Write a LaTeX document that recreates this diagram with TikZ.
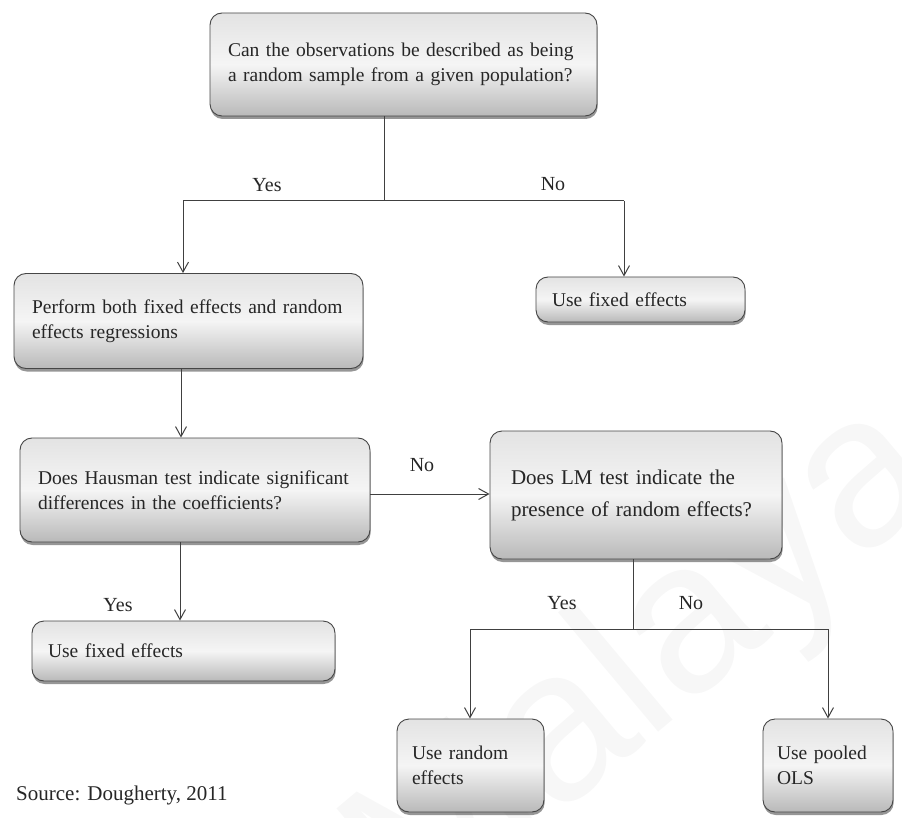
\documentclass[tikz,border=0pt]{standalone}
\usepackage{fontspec}
\setmainfont{Liberation Serif}
\newfontfamily\wmfont{Liberation Sans}
\usetikzlibrary{arrows.meta,shadows}

\begin{document}
\begin{tikzpicture}[x=1pt,y=-1pt,
  box/.style={draw=gray!55!black, line width=0.9pt, rounded corners=12pt,
    top color=gray!22, bottom color=gray!55, middle color=gray!8,
    drop shadow={shadow xshift=0.6pt, shadow yshift=-3pt, opacity=0.55, fill=black!75},
    align=left, text=black!85, inner ysep=0pt, inner xsep=18pt,
    font=\fontsize{19.5}{25}\selectfont},
  conn/.style={draw=black!75, line width=1pt},
  arr/.style={conn, -{Straight Barb[length=10pt,width=11pt,line width=1pt]}},
  lbl/.style={text=black!85, font=\fontsize{20}{24}\selectfont, inner sep=0pt},
  wm/.style={text=gray!6, font=\wmfont\fontsize{215}{215}\selectfont, inner sep=0pt}
]
\useasboundingbox (0,0) rectangle (902,818);

% faint watermark behind everything
\node[wm, rotate=40] (wm) at (648,668) {Malaya};

% decision and outcome boxes
\node[box, minimum width=387pt, minimum height=103pt, text width=351pt] (q1) at (403.5,64.5)
  {Can the observations be described as being\\a random sample from a given population?};
\node[box, minimum width=349pt, minimum height=95pt, text width=313pt] (both) at (188.5,321)
  {Perform both fixed effects and random\\effects regressions};
\node[box, minimum width=209pt, minimum height=45pt, text width=177pt, inner xsep=16pt] (fe1) at (640.5,299.5)
  {Use fixed effects};
\node[box, minimum width=350pt, minimum height=104pt, text width=314pt] (haus) at (195,490)
  {Does Hausman test indicate significant\\differences in the coefficients?};
\node[box, minimum width=292pt, minimum height=128pt, text width=250pt, inner xsep=21pt,
  font=\fontsize{21}{32}\selectfont] (lm) at (636,495)
  {Does LM test indicate the\\presence of random effects?};
\node[box, minimum width=303pt, minimum height=60pt, text width=271pt, inner xsep=16pt] (fe2) at (183.5,651)
  {Use fixed effects};
\node[box, minimum width=147pt, minimum height=93pt, text width=117pt, inner xsep=15pt] (re) at (470.5,765.5)
  {Use random\\effects};
\node[box, minimum width=130pt, minimum height=93pt, text width=102pt, inner xsep=14pt] (ols) at (828,765.5)
  {Use pooled\\OLS};

% branch points
\coordinate (j1) at (384,201);
\coordinate (j1l) at (183,201);
\coordinate (j1r) at (624,201);
\coordinate (c2) at (181,0);
\coordinate (c4) at (0,494);
\coordinate (c5) at (180,0);
\coordinate (j3) at (633,629);
\coordinate (j3l) at (470,629);
\coordinate (j3r) at (828,629);

% connectors
\draw[conn] (q1.south -| j1) -- (j1);
\draw[conn] (j1l) -- (j1r);
\draw[arr] (j1l) -- (j1l |- both.north);
\draw[arr] (j1r) -- (j1r |- fe1.north);
\draw[arr] (both.south -| c2) -- (haus.north -| c2);
\draw[arr] (haus.east |- c4) -- (lm.west |- c4);
\draw[arr] (haus.south -| c5) -- (fe2.north -| c5);
\draw[conn] (lm.south -| j3) -- (j3);
\draw[conn] (j3l) -- (j3r);
\draw[arr] (j3l) -- (j3l |- re.north);
\draw[arr] (j3r) -- (j3r |- ols.north);

% branch labels
\node[lbl] (y1) at (267,185) {Yes};
\node[lbl] (n1) at (553,184) {No};
\node[lbl] (n2) at (422,465) {No};
\node[lbl] (y2) at (118,605) {Yes};
\node[lbl] (y3) at (562,603) {Yes};
\node[lbl] (n3) at (691,603) {No};

% citation
\node[lbl, anchor=west, font=\fontsize{21}{25}\selectfont] (src) at (16,795) {Source: Dougherty, 2011};
\end{tikzpicture}
\end{document}
